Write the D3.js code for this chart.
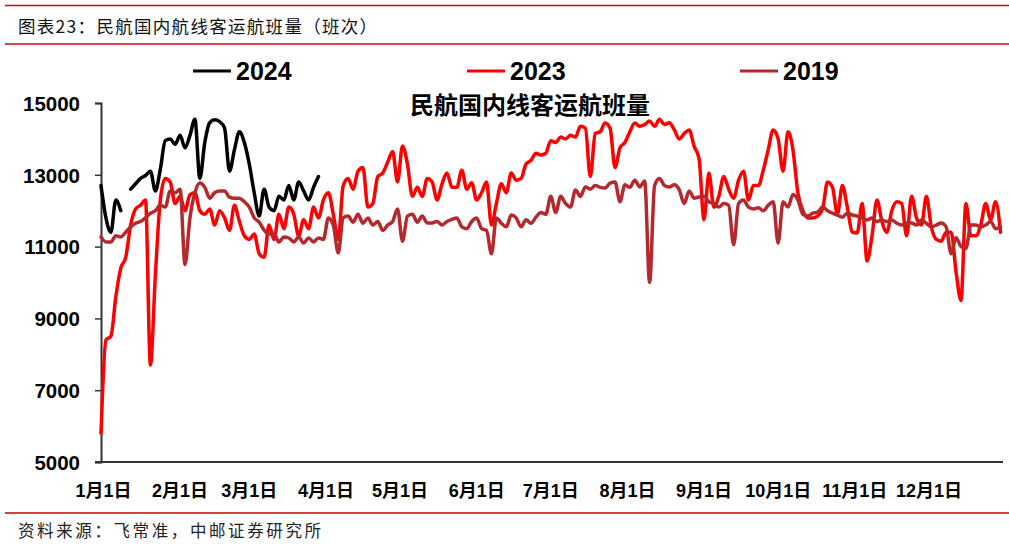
<!DOCTYPE html>
<html>
<head>
<meta charset="utf-8">
<script src="https://cdn.jsdelivr.net/npm/d3@7"></script>
<style>
  body { margin: 0; background: #fff; }
  text { font-family: "Liberation Sans", Arial, "Noto Sans CJK SC", sans-serif; }
</style>
</head>
<body>
<div id="chart"></div>
<script>
const W = 1009, H = 548

// tick labels
const monthLabels = ["1月1日","2月1日","3月1日","4月1日","5月1日","6月1日","7月1日","8月1日","9月1日","10月1日","11月1日","12月1日"]
const yTicks = [5000, 7000, 9000, 11000, 13000, 15000]
const seriesNames = ["2024", "2023", "2019"]
const seriesColors = ["#000000", "#ff0000", "#b3292d"]

// one value every 2 days, starting 1月1日
const stepDays = 2

const v2024 = [
  12700, 11800, 11400, 12300, 12000, null, 12600, 12750, 12900, 12980,
  13100, 12550, 13150, 13950, 14000, 13850, 14100, 13750, 14100, 14550,
  12900, 13900, 14450, 14530, 14480, 14300, 13100, 13700, 14200, 13900,
  13300, 12500, 11850, 12600, 12100, 12000, 12400, 12300, 12700, 12300,
  12800, 12550, 12300, 12650, 12950
]

const v2023 = [
  5800, 8400, 8500, 9600, 10400, 10700, 11600, 12050, 12150, 12300,
  7700, 10200, 12300, 12900, 12800, 12200, 12400, 12000, 12450, 12500,
  12000, 11900, 12050, 11600, 12000, 11800, 11450, 12150, 11700, 11300,
  11200, 11350, 10800, 10700, 11600, 11200, 11900, 11500, 12100, 11900,
  11300, 11750, 11500, 12100, 11800, 12300, 12500, 11900, 11200, 12700,
  12900, 12600, 13100, 13200, 12100, 12200, 12950, 13050, 13350, 13650,
  12800, 13800, 13300, 12400, 12650, 12400, 12900, 12800, 12300, 12750,
  13050, 12650, 12650, 13130, 12600, 12780, 12300, 12500, 12800, 11600,
  12200, 12750, 12500, 13050, 12850, 12900, 13300, 13400, 13600, 13550,
  13600, 13950, 13900, 14050, 14000, 14100, 14050, 14350, 14300, 12950,
  14150, 14200, 14440, 14300, 13200, 13750, 13900, 14200, 14440, 14350,
  14400, 14500, 14350, 14550, 14400, 14450, 14250, 14000, 14150, 14250,
  13800, 13450, 11750, 13050, 12100, 12400, 12950, 12600, 12350, 12850,
  13100, 12300, 12700, 12700, 13130, 13700, 14250, 14000, 13100, 14200,
  13700, 12500, 12000, 11800, 11800, 11850, 12050, 12800, 12650, 11900,
  12700, 12100, 11400, 11380, 12200, 10600, 11300, 12300, 11700, 11400,
  12000, 12250, 12200, 11300, 12400, 11800, 11600, 12400, 11550, 11200,
  11150, 11400, 11400, 10300, 9500, 12200, 11300, 11300, 11600, 12200,
  11750, 12250, 11400
]

const v2019 = [
  11270, 11130, 11130, 11300, 11270, 11400, 11550, 11650, 11700, 11800,
  11930, 12000, 12150, 12100, 12550, 12500, 12600, 10500, 11800, 12500,
  12770, 12650, 12350, 12500, 12550, 12550, 12380, 12350, 12350, 12250,
  12100, 11800, 11680, 11460, 11350, 11350, 11130, 11270, 11240, 11130,
  11270, 11100, 11240, 11130, 11240, 11200, 11800, 11600, 10820, 11800,
  11850, 11680, 11900, 11650, 11800, 11600, 11700, 11450, 11600, 11700,
  12050, 11150, 11850, 11900, 11680, 11850, 11660, 11660, 11700, 11600,
  11700, 11760, 11800, 11550, 11500, 11700, 11800, 11500, 11450, 10800,
  11800, 11650, 11550, 11880, 11800, 11550, 11750, 11650, 11820, 11950,
  11900, 12400, 11950, 12400, 12200, 12100, 12580, 12400, 12660, 12600,
  12700, 12650, 12630, 12770, 12800, 12250, 12720, 12650, 12850, 12660,
  12830, 10000, 12700, 12900, 12700, 12660, 12720, 12580, 12200, 12550,
  12350, 12380, 12400, 12250, 12200, 12100, 12200, 12150, 11050, 12200,
  12300, 12100, 12050, 12080, 12000, 12150, 12250, 11100, 12250, 12100,
  12450, 12300, 11900, 11850, 11930, 11960, 12100, 12000, 11930, 11880,
  11820, 11930, 11880, 11850, 11800, 11740, 11800, 11700, 11740, 11700,
  11740, 11650, 11600, 11660, 11660, 11600, 11740, 11650, 11550, 11600,
  11660, 11550, 10800, 11250, 11000, 10950, 11600, 11600, 11550, 11600,
  11700, 11500, 11550
]

const seriesValues = [v2024, v2023, v2019]

const svg = d3.select("#chart").append("svg")
  .attr("width", W)
  .attr("height", H)

// header and footer
svg.append("line").attr("x1", 5).attr("x2", W).attr("y1", 5.5).attr("y2", 5.5)
  .attr("stroke", "#d0021b").attr("stroke-width", 1.3)
svg.append("text").attr("x", 18).attr("y", 33)
  .style("font-family", "'Noto Sans CJK SC', sans-serif")
  .style("font-size", "17.5px").style("letter-spacing", "1.3px").attr("fill", "#111")
  .text("图表23：民航国内航线客运航班量（班次）")
svg.append("line").attr("x1", 5).attr("x2", W).attr("y1", 44).attr("y2", 44)
  .attr("stroke", "#d0021b").attr("stroke-width", 1.3)

svg.append("line").attr("x1", 5).attr("x2", W).attr("y1", 513).attr("y2", 513)
  .attr("stroke", "#c00000").attr("stroke-width", 1.3)
svg.append("text").attr("x", 18).attr("y", 537)
  .style("font-family", "'Noto Sans CJK SC', sans-serif")
  .style("font-size", "16.5px").style("letter-spacing", "2.6px").attr("fill", "#222")
  .text("资料来源：飞常准，中邮证券研究所")

// scales
const start = new Date(2023, 0, 1)
const end = new Date(2024, 0, 1)
const x = d3.scaleTime().domain([start, end]).range([101, 1003])
const y = d3.scaleLinear().domain([5000, 15000]).range([462, 103])

const dayOf = i => d3.timeDay.offset(start, i * stepDays)

// y axis
const yAxis = d3.axisLeft(y).tickValues(yTicks).tickSize(6).tickFormat(d3.format("d"))
const gy = svg.append("g").attr("transform", "translate(101,0)").call(yAxis)
gy.select(".domain").attr("stroke", "#333").attr("stroke-width", 2)
gy.selectAll(".tick line").attr("stroke", "#333").attr("stroke-width", 1.5)
gy.selectAll(".tick text").attr("x", -21).attr("dy", "0.36em")
  .style("font-size", "20.5px").style("font-weight", "bold").attr("fill", "#000")

// x axis
const monthDates = d3.range(12).map(m => new Date(2023, m, 1))
const xAxis = d3.axisBottom(x).tickValues(monthDates).tickSize(0)
  .tickFormat((d, i) => monthLabels[i])
const gx = svg.append("g").attr("transform", "translate(0,462)").call(xAxis)
gx.select(".domain").attr("d", "M95,0H1003").attr("stroke", "#333").attr("stroke-width", 2)
gx.selectAll(".tick text").attr("y", 22).attr("dy", "0.71em").attr("dx", 2)
  .style("font-size", "18px").style("font-weight", "bold").attr("fill", "#000")

// lines
const line = d3.line()
  .defined(d => d != null)
  .x((d, i) => x(dayOf(i)))
  .y(d => y(d))
  .curve(d3.curveMonotoneX)

svg.append("g").selectAll("path")
  .data(seriesValues)
  .enter()
  .append("path")
  .attr("d", d => line(d))
  .attr("fill", "none")
  .attr("stroke", (d, i) => seriesColors[i])
  .attr("stroke-width", 3.5)
  .attr("stroke-linejoin", "round")
  .attr("stroke-linecap", "round")

// chart title
svg.append("text").attr("x", 530).attr("y", 114).attr("text-anchor", "middle")
  .style("font-family", "'Noto Sans CJK SC', sans-serif")
  .style("font-size", "24px").style("font-weight", "bold").attr("fill", "#000")
  .text("民航国内线客运航班量")

// legend
const legendX = [193, 467, 740]
const leg = svg.append("g").selectAll("g")
  .data(seriesNames)
  .enter()
  .append("g")
  .attr("transform", (d, i) => `translate(${legendX[i]},71)`)
leg.append("line").attr("x1", 0).attr("x2", 38)
  .attr("stroke", (d, i) => seriesColors[i]).attr("stroke-width", 3)
leg.append("text").attr("x", 43).attr("y", 9)
  .style("font-size", "25px").style("font-weight", "bold").attr("fill", "#000")
  .text(d => d)
</script>
</body>
</html>
